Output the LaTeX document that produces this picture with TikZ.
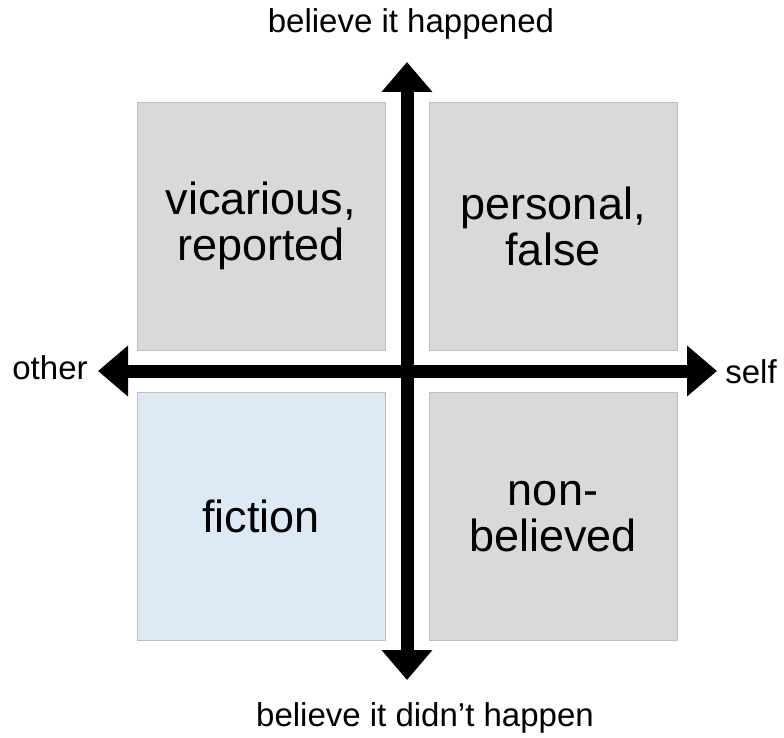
\documentclass[tikz,border=0pt]{standalone}
\usepackage{fontspec}
\setmainfont{Liberation Sans}
\usetikzlibrary{arrows.meta}
\definecolor{quadgrey}{RGB}{217,217,217}
\definecolor{quadblue}{RGB}{222,233,246}
\definecolor{quadedge}{RGB}{190,190,190}

\begin{document}
\begin{tikzpicture}[x=1pt, y=-1pt,
        quadrant/.style={rectangle, draw=quadedge, line width=0.8pt, minimum size=248pt, inner sep=0pt, align=center, font=\fontsize{45}{46}\selectfont},
        axislabel/.style={inner sep=0pt, font=\fontsize{33}{36}\selectfont},
        axis/.style={{Triangle[length=30pt,width=49pt]}-{Triangle[length=30pt,width=49pt]}, line width=13pt}
    ]
        \useasboundingbox (0,0) rectangle (784,738);

        % Quadrants
        \node[quadrant, fill=quadgrey] (reported) at (261,226) {vicarious,\\reported};
        \node[quadrant, fill=quadgrey] (personal) at (553,226) {personal,\\false};
        \node[quadrant, fill=quadblue] (fiction) at (261,516.5) {fiction};
        \node[quadrant, fill=quadgrey] (nonbelieved) at (553,516.5) {non-\\believed};

        % Axis labels
        \node[axislabel] (happened) at (411,24) {believe it happened};
        \node[axislabel] (didnt) at (425,718) {believe it didn’t happen};
        \node[axislabel] (other) at (50,368) {other};
        \node[axislabel] (self) at (751,372) {self};

        % Axes
        \coordinate (vtop) at (407,62);
        \coordinate (vbottom) at (407,680);
        \coordinate (hleft) at (98,371);
        \coordinate (hright) at (717,371);
        \draw[axis] (vbottom) -- (vtop);
        \draw[axis] (hleft) -- (hright);

    \end{tikzpicture}
\end{document}
